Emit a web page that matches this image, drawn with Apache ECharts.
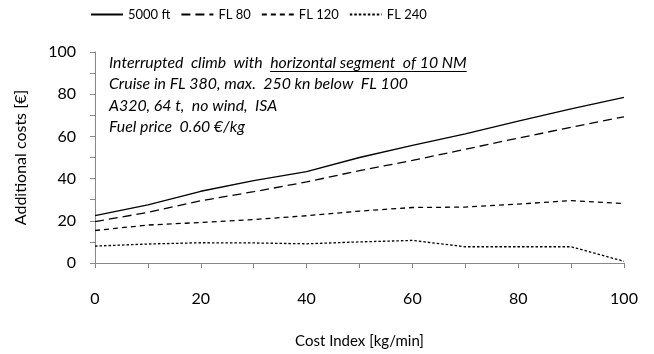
<!DOCTYPE html>
<html><head><meta charset="utf-8">
<script src="https://cdn.jsdelivr.net/npm/echarts@6/dist/echarts.min.js"></script>
<style>html,body{margin:0;padding:0;background:#fff}#c{width:654px;height:354px}</style>
</head><body><div id="c"></div>
<script>
var costIndex = [0, 10, 20, 30, 40, 50, 60, 70, 80, 90, 100];
var s5000ft = [22.4, 27.6, 34, 39, 43.3, 50, 55.8, 61.2, 67.2, 73, 78.5];
var sFL80   = [19.6, 24, 29.5, 33.8, 38.4, 43.8, 48.6, 53.9, 59.2, 64.3, 69.3];
var sFL120  = [15.4, 18, 19.2, 20.6, 22.4, 24.6, 26.3, 26.5, 27.9, 29.6, 28.2];
var sFL240  = [8, 9, 9.6, 9.5, 9.1, 10, 10.7, 7.7, 7.7, 7.7, 0.8];
var seriesNames = ['5000 ft', 'FL 80', 'FL 120', 'FL 240'];
var notes = ['Cruise in FL 380, max.  250 kn below  FL 100', 'A320, 64 t,  no wind,  ISA', 'Fuel price  0.60 €/kg'];
var note1a = 'Interrupted  climb  with  ';
var note1b = 'horizontal segment  of 10 NM';

var FONT = 'Lato';
function pairs(v){ return costIndex.map(function(x,i){return [x, v[i]];}); }
var dashes = [null, [9,5], [5,4], [2.5,2]];
var sers = [s5000ft, sFL80, sFL120, sFL240].map(function(v,i){
  return {name: seriesNames[i], type:'line', data: pairs(v), symbol:'none', animation:false,
    itemStyle:{color:'#000', opacity:0},
    lineStyle:{color:'#000', width:1.3, type: dashes[i] || 'solid', opacity:1}};
});

var cv = document.createElement('canvas').getContext('2d');
cv.font = 'italic 13px ' + FONT;
var w13 = cv.measureText(note1a + note1b).width;
var nfs = Math.min(17, 13 * 358 / w13);
var noteFont = 'italic ' + nfs.toFixed(2) + 'px ' + FONT;
cv.font = noteFont;
var wA = cv.measureText(note1a).width, wB = cv.measureText(note1b).width;
var nx = 109, ny = 63, lh = 21.3;
var graphics = [
  {type:'text', x:nx, y:ny, style:{text:note1a, font:noteFont, fill:'#000', textVerticalAlign:'middle'}},
  {type:'text', x:nx+wA, y:ny, style:{text:note1b, font:noteFont, fill:'#000', textVerticalAlign:'middle'}},
  {type:'line', shape:{x1:nx+wA, y1:ny+8.5, x2:nx+wA+wB, y2:ny+8.5}, style:{stroke:'#000', lineWidth:1}}
];
notes.forEach(function(t,i){
  graphics.push({type:'text', x:nx, y:ny+(i+1)*lh, style:{text:t, font:noteFont, fill:'#000', textVerticalAlign:'middle'}});
});

var chart = echarts.init(document.getElementById('c'), null, {renderer:'canvas'});
chart.setOption({
  backgroundColor:'#fff',
  animation:false,
  textStyle:{fontFamily:FONT},
  legend:{left:90, top:8, padding:0, itemWidth:32, itemHeight:12, itemGap:10,
    itemStyle:{opacity:0},
    textStyle:{fontFamily:FONT, fontSize:13, color:'#000'}, data:seriesNames},
  grid:{left:95, right:30, top:52, bottom:86, containLabel:false},
  xAxis:{type:'value', min:0, max:100, interval:10,
    name:'Cost Index [kg/min]', nameLocation:'middle', nameGap:71,
    nameTextStyle:{fontFamily:FONT, fontSize:15, color:'#000'},
    axisLine:{lineStyle:{color:'#888'}}, axisTick:{length:5, lineStyle:{color:'#888'}},
    splitLine:{show:false},
    axisLabel:{fontFamily:FONT, fontSize:16, color:'#000', margin:28,
      formatter:function(v){return v%20===0 ? String(v) : '';}}},
  yAxis:{type:'value', min:0, max:100, interval:10,
    name:'Additional costs [€]', nameLocation:'middle', nameGap:66,
    nameTextStyle:{fontFamily:FONT, fontSize:16, color:'#000'},
    axisLine:{show:true, lineStyle:{color:'#888'}}, axisTick:{show:true, length:5, lineStyle:{color:'#888'}},
    splitLine:{show:false},
    axisLabel:{fontFamily:FONT, fontSize:16, color:'#000', margin:19,
      formatter:function(v){return v%20===0 ? String(v) : '';}}},
  series: sers,
  graphic: graphics
});
</script></body></html>
